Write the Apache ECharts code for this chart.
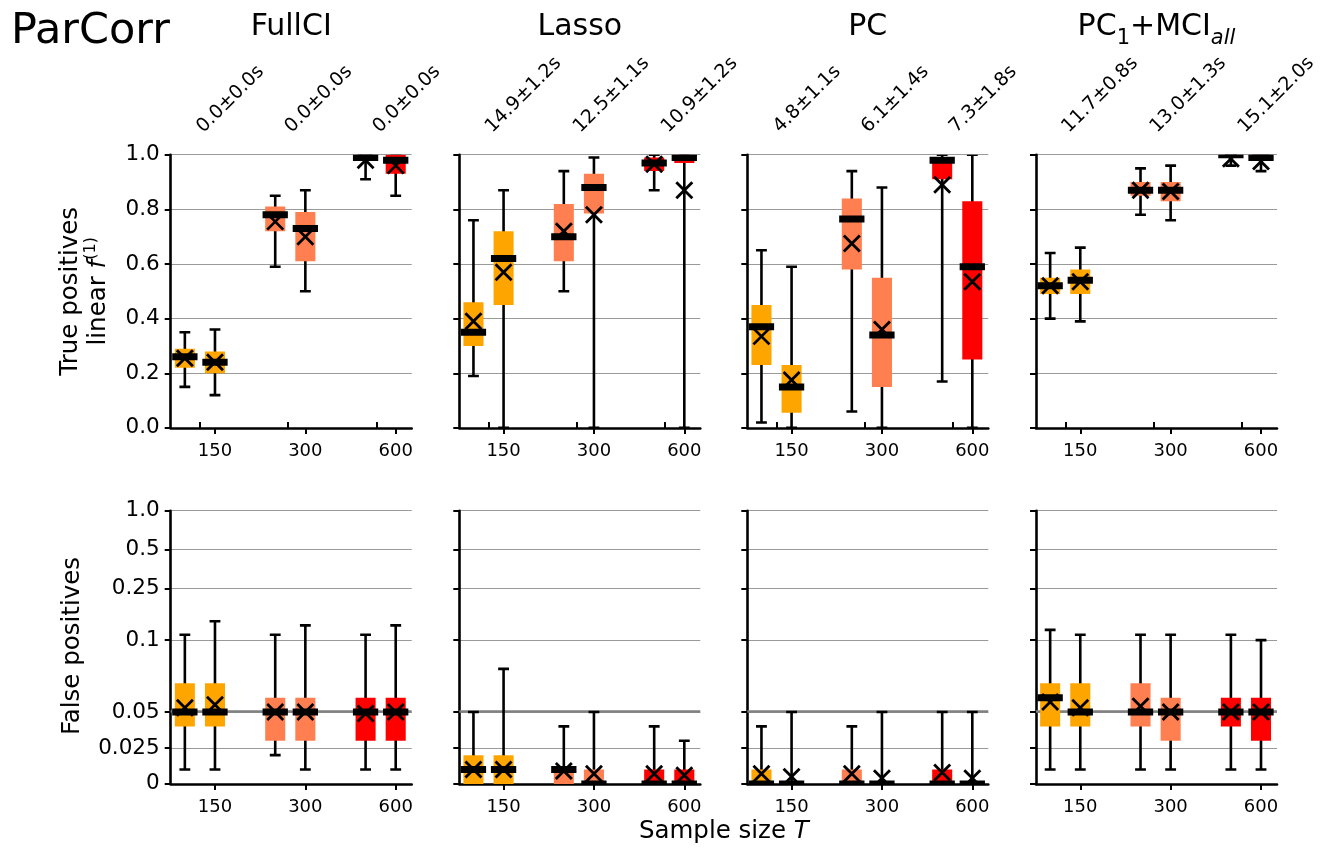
<!DOCTYPE html>
<html>
<head>
<meta charset="utf-8">
<script src="https://cdn.jsdelivr.net/npm/echarts@6/dist/echarts.min.js"></script>
<style>
  html, body { margin: 0; padding: 0; background: #ffffff; }
  #chart { width: 1321px; height: 848px; }
</style>
</head>
<body>
<div id="chart"></div>
<script>
// ---- data ----------------------------------------------------------------
const sampleSizes = ['150', '300', '600'];
const runtimeFullCI = ['0.0±0.0s', '0.0±0.0s', '0.0±0.0s'];
const runtimeLasso  = ['14.9±1.2s', '12.5±1.1s', '10.9±1.2s'];
const runtimePC     = ['4.8±1.1s', '6.1±1.4s', '7.3±1.8s'];
const runtimePCMCI  = ['11.7±0.8s', '13.0±1.3s', '15.1±2.0s'];

// each row: [whisker low, Q1, median, Q3, whisker high, mean]
// two boxes per sample size, ordered 150, 150, 300, 300, 600, 600
const tpFullCI = [
  [0.15, 0.22, 0.26, 0.29, 0.35, 0.255],
  [0.12, 0.20, 0.24, 0.28, 0.36, 0.24],
  [0.59, 0.72, 0.78, 0.81, 0.85, 0.755],
  [0.50, 0.61, 0.73, 0.79, 0.87, 0.70],
  [0.91, 0.98, 0.99, 1.00, 1.00, 0.98],
  [0.85, 0.93, 0.98, 1.00, 1.00, 0.96]
];
const tpLasso = [
  [0.19, 0.30, 0.35, 0.46, 0.76, 0.39],
  [0.00, 0.45, 0.62, 0.72, 0.87, 0.57],
  [0.50, 0.61, 0.70, 0.82, 0.94, 0.72],
  [0.00, 0.785, 0.88, 0.93, 0.99, 0.78],
  [0.87, 0.94, 0.97, 0.99, 1.00, 0.965],
  [0.00, 0.97, 0.99, 1.00, 1.00, 0.87]
];
const tpPC = [
  [0.02, 0.23, 0.37, 0.45, 0.65, 0.335],
  [0.00, 0.055, 0.15, 0.23, 0.59, 0.175],
  [0.06, 0.58, 0.765, 0.84, 0.94, 0.675],
  [0.00, 0.15, 0.34, 0.55, 0.88, 0.36],
  [0.17, 0.91, 0.98, 0.99, 1.00, 0.89],
  [0.00, 0.25, 0.59, 0.83, 1.00, 0.535]
];
const tpPCMCI = [
  [0.40, 0.49, 0.52, 0.55, 0.64, 0.52],
  [0.39, 0.49, 0.54, 0.58, 0.66, 0.535],
  [0.78, 0.85, 0.87, 0.90, 0.95, 0.87],
  [0.76, 0.83, 0.87, 0.90, 0.96, 0.865],
  [0.96, 0.99, 1.00, 1.00, 1.00, 0.985],
  [0.94, 0.98, 0.99, 1.00, 1.00, 0.975]
];

const fpFullCI = [
  [0.01, 0.04, 0.05, 0.07, 0.11, 0.053],
  [0.01, 0.04, 0.05, 0.07, 0.14, 0.055],
  [0.02, 0.03, 0.05, 0.06, 0.11, 0.05],
  [0.01, 0.03, 0.05, 0.06, 0.13, 0.05],
  [0.01, 0.03, 0.05, 0.06, 0.11, 0.049],
  [0.01, 0.03, 0.05, 0.06, 0.13, 0.05]
];
const fpLasso = [
  [0.00, 0.00, 0.01, 0.02, 0.05, 0.01],
  [0.00, 0.00, 0.01, 0.02, 0.08, 0.01],
  [0.00, 0.00, 0.01, 0.01, 0.04, 0.009],
  [0.00, 0.00, 0.00, 0.01, 0.05, 0.007],
  [0.00, 0.00, 0.00, 0.01, 0.04, 0.007],
  [0.00, 0.00, 0.00, 0.01, 0.03, 0.006]
];
const fpPC = [
  [0.00, 0.00, 0.00, 0.01, 0.04, 0.007],
  [0.00, 0.00, 0.00, 0.00, 0.05, 0.005],
  [0.00, 0.00, 0.00, 0.01, 0.04, 0.007],
  [0.00, 0.00, 0.00, 0.00, 0.05, 0.004],
  [0.00, 0.00, 0.00, 0.01, 0.05, 0.008],
  [0.00, 0.00, 0.00, 0.00, 0.05, 0.004]
];
const fpPCMCI = [
  [0.01, 0.04, 0.06, 0.07, 0.12, 0.057],
  [0.01, 0.04, 0.05, 0.07, 0.11, 0.053],
  [0.01, 0.04, 0.05, 0.07, 0.11, 0.054],
  [0.01, 0.03, 0.05, 0.06, 0.11, 0.05],
  [0.01, 0.04, 0.05, 0.06, 0.11, 0.05],
  [0.01, 0.03, 0.05, 0.06, 0.10, 0.05]
];

const tpTickValues = [0, 0.2, 0.4, 0.6, 0.8, 1.0];
const fpTickValues = [0, 0.025, 0.05, 0.1, 0.25, 0.5, 1.0];
const fpTickLabels = ['0', '0.025', '0.05', '0.1', '0.25', '0.5', '1.0'];
const expectedFalseRate = 0.05;

// ---- layout & style --------------------------------------------------------
const FONT = 'DejaVu Sans';
const sizeColors = ['#FFA500', '#FF7F50', '#FF0000'];
const pairOffsets = [-1 / 3, 0];          // two boxes per sample size
const runtimeTickPos = [0.835, 1.81, 2.785];
const X_MIN = 0.51, X_MAX = 3.177;
const panelLeft = [170.7, 459.3, 747.3, 1036];
const panelWidth = 241;
const rowTop = [154.7, 510.7];
const rowHeight = 273.2;

// symmetric-log scale (linear below 0.1, logarithmic above)
const LINTHRESH = 0.1;
const LINSCALE = 1 / (1 - 0.1);
function symlog(v) {
  return v <= LINTHRESH ? (v / LINTHRESH) * LINSCALE : LINSCALE + Math.log10(v / LINTHRESH);
}

const panels = [
  { tp: tpFullCI, fp: fpFullCI, runtime: runtimeFullCI },
  { tp: tpLasso,  fp: fpLasso,  runtime: runtimeLasso },
  { tp: tpPC,     fp: fpPC,     runtime: runtimePC },
  { tp: tpPCMCI,  fp: fpPCMCI,  runtime: runtimePCMCI }
];

function nearestIndex(list, v) {
  let best = 0;
  list.forEach((t, i) => { if (Math.abs(t - v) < Math.abs(list[best] - v)) best = i; });
  return best;
}

// whiskers, IQR box, median bar and a cross for the mean
function renderBox(params, api) {
  const x = api.value(0);
  const vals = [1, 2, 3, 4, 5, 6].map(i => api.value(i));
  const color = sizeColors[api.value(7)];
  const [lo, q1, med, q3, hi, mean] = vals.map(v => api.coord([x, v]));
  const unit = api.size([1, 0])[0];
  const boxW = 0.222 * unit, medW = 0.28 * unit, capW = 0.12 * unit;
  const cx = lo[0];
  const m = 8;
  const black = { stroke: '#000', lineWidth: 2.6 };
  const cross = { stroke: '#000', lineWidth: 2.8 };
  const children = [
    { type: 'line', shape: { x1: cx, y1: lo[1], x2: cx, y2: hi[1] }, style: black },
    { type: 'line', shape: { x1: cx - capW / 2, y1: lo[1], x2: cx + capW / 2, y2: lo[1] }, style: black },
    { type: 'line', shape: { x1: cx - capW / 2, y1: hi[1], x2: cx + capW / 2, y2: hi[1] }, style: black },
    { type: 'rect', shape: { x: cx - boxW / 2, y: q3[1], width: boxW, height: q1[1] - q3[1] },
      style: { fill: color, stroke: null } },
    { type: 'rect', shape: { x: cx - medW / 2, y: med[1] - 3.5, width: medW, height: 7 },
      style: { fill: '#000' } },
    { type: 'line', shape: { x1: cx - m, y1: mean[1] - m, x2: cx + m, y2: mean[1] + m }, style: cross },
    { type: 'line', shape: { x1: cx - m, y1: mean[1] + m, x2: cx + m, y2: mean[1] - m }, style: cross }
  ];
  return { type: 'group', children };
}

const grid = [], xAxis = [], yAxis = [], series = [];
const axisLine = { show: true, onZero: false, lineStyle: { color: '#000', width: 2.6 } };
const axisTick = { show: true, length: 6, lineStyle: { color: '#000', width: 2 } };

[0, 1].forEach(row => {
  panels.forEach((p, col) => {
    const g = grid.length;
    const fp = row === 1;
    grid.push({ left: panelLeft[col], top: rowTop[row], width: panelWidth, height: rowHeight });

    const xi = xAxis.length;
    xAxis.push({
      type: 'value', gridIndex: g, min: X_MIN, max: X_MAX, position: 'bottom',
      axisLine: axisLine,
      axisTick: Object.assign({ customValues: [1, 2, 3] }, axisTick),
      axisLabel: {
        customValues: [1, 2, 3], formatter: v => sampleSizes[Math.round(v) - 1],
        fontFamily: FONT, fontSize: 18, color: '#000', margin: 14
      },
      splitLine: { show: false }
    });
    if (!fp) {
      // run-time labels above the top-row panels
      xAxis.push({
        type: 'value', gridIndex: g, min: X_MIN, max: X_MAX, position: 'top',
        axisLine: { show: false },
        axisTick: Object.assign({ customValues: runtimeTickPos }, axisTick),
        axisLabel: {
          customValues: runtimeTickPos, rotate: 45,
          formatter: v => p.runtime[nearestIndex(runtimeTickPos, v)],
          fontFamily: FONT, fontSize: 19, color: '#000', margin: 25
        },
        splitLine: { show: false }
      });
    }

    const tickPos = fp ? fpTickValues.map(symlog) : tpTickValues;
    yAxis.push({
      type: 'value', gridIndex: g, min: 0, max: fp ? symlog(1) : 1,
      axisLine: axisLine,
      axisTick: Object.assign({ customValues: tickPos }, axisTick),
      axisLabel: {
        show: col === 0, customValues: tickPos,
        formatter: v => {
          const k = nearestIndex(tickPos, v);
          return fp ? fpTickLabels[k] : tpTickValues[k].toFixed(1);
        },
        fontFamily: FONT, fontSize: 21.5, color: '#000', margin: 11
      },
      splitLine: { show: true, lineStyle: { color: '#9a9a9a', width: 1.2 } }
    });

    const src = fp ? p.fp : p.tp;
    const data = src.map((s, k) => {
      const sizeIdx = Math.floor(k / 2);
      const x = sizeIdx + 1 + pairOffsets[k % 2];
      const v = fp ? s.map(symlog) : s;
      return [x, v[0], v[1], v[2], v[3], v[4], v[5], sizeIdx];
    });
    if (fp) {
      series.push({
        type: 'scatter', xAxisIndex: xi, yAxisIndex: g, data: [], silent: true, z: 1,
        markLine: {
          silent: true, symbol: 'none', animation: false, z: 1,
          label: { show: false },
          lineStyle: { color: '#808080', width: 2.6, type: 'solid' },
          data: [{ yAxis: symlog(expectedFalseRate) }]
        }
      });
    }
    series.push({
      type: 'custom', xAxisIndex: xi, yAxisIndex: g, clip: true,
      renderItem: renderBox, data: data, animation: false, z: 10
    });
  });
});

const titleStyle = { fill: '#000', fontFamily: FONT, fontSize: 30 };
const axisTitle = { fill: '#000', fontFamily: FONT, fontSize: 24.5, align: 'center', verticalAlign: 'middle' };
const graphic = [
  { type: 'text', x: 11, y: 32, style: { text: 'ParCorr', fill: '#000', fontFamily: FONT, fontSize: 43, verticalAlign: 'middle' } },
  { type: 'text', x: panelLeft[0] + panelWidth / 2, y: 27, style: Object.assign({ text: 'FullCI', align: 'center', verticalAlign: 'middle' }, titleStyle) },
  { type: 'text', x: panelLeft[1] + panelWidth / 2, y: 27, style: Object.assign({ text: 'Lasso', align: 'center', verticalAlign: 'middle' }, titleStyle) },
  { type: 'text', x: panelLeft[2] + panelWidth / 2, y: 27, style: Object.assign({ text: 'PC', align: 'center', verticalAlign: 'middle' }, titleStyle) },
  { type: 'text', x: panelLeft[3] + panelWidth / 2, y: 27,
    style: Object.assign({
      text: 'PC{s|1}+MCI{si|all}', align: 'center', verticalAlign: 'middle', lineHeight: 44,
      rich: {
        s: { fontFamily: FONT, fontSize: 21, verticalAlign: 'bottom', lineHeight: 44, fill: '#000' },
        si: { fontFamily: FONT, fontSize: 21, fontStyle: 'italic', verticalAlign: 'bottom', lineHeight: 44, fill: '#000' }
      }
    }, titleStyle) },
  { type: 'text', x: 71, y: rowTop[0] + rowHeight / 2, rotation: Math.PI / 2,
    style: Object.assign({ text: 'True positives' }, axisTitle) },
  { type: 'text', x: 99, y: rowTop[0] + rowHeight / 2, rotation: Math.PI / 2,
    style: Object.assign({
      text: 'linear {i|f}{sup|(1)}', lineHeight: 32,
      rich: {
        i: { fontFamily: FONT, fontSize: 24.5, fontStyle: 'italic', fill: '#000', lineHeight: 32 },
        sup: { fontFamily: FONT, fontSize: 16, verticalAlign: 'top', fill: '#000', lineHeight: 32 }
      }
    }, axisTitle) },
  { type: 'text', x: 73, y: 646, rotation: Math.PI / 2,
    style: Object.assign({ text: 'False positives' }, axisTitle) },
  { type: 'text', x: (panelLeft[0] + panelLeft[3] + panelWidth) / 2, y: 832,
    style: Object.assign({
      text: 'Sample size {i|T}',
      rich: { i: { fontFamily: FONT, fontSize: 24.5, fontStyle: 'italic', fill: '#000' } }
    }, axisTitle) }
];

const chart = echarts.init(document.getElementById('chart'), null, { renderer: 'canvas' });
chart.setOption({
  animation: false,
  backgroundColor: '#ffffff',
  grid, xAxis, yAxis, series, graphic
});
</script>
</body>
</html>
